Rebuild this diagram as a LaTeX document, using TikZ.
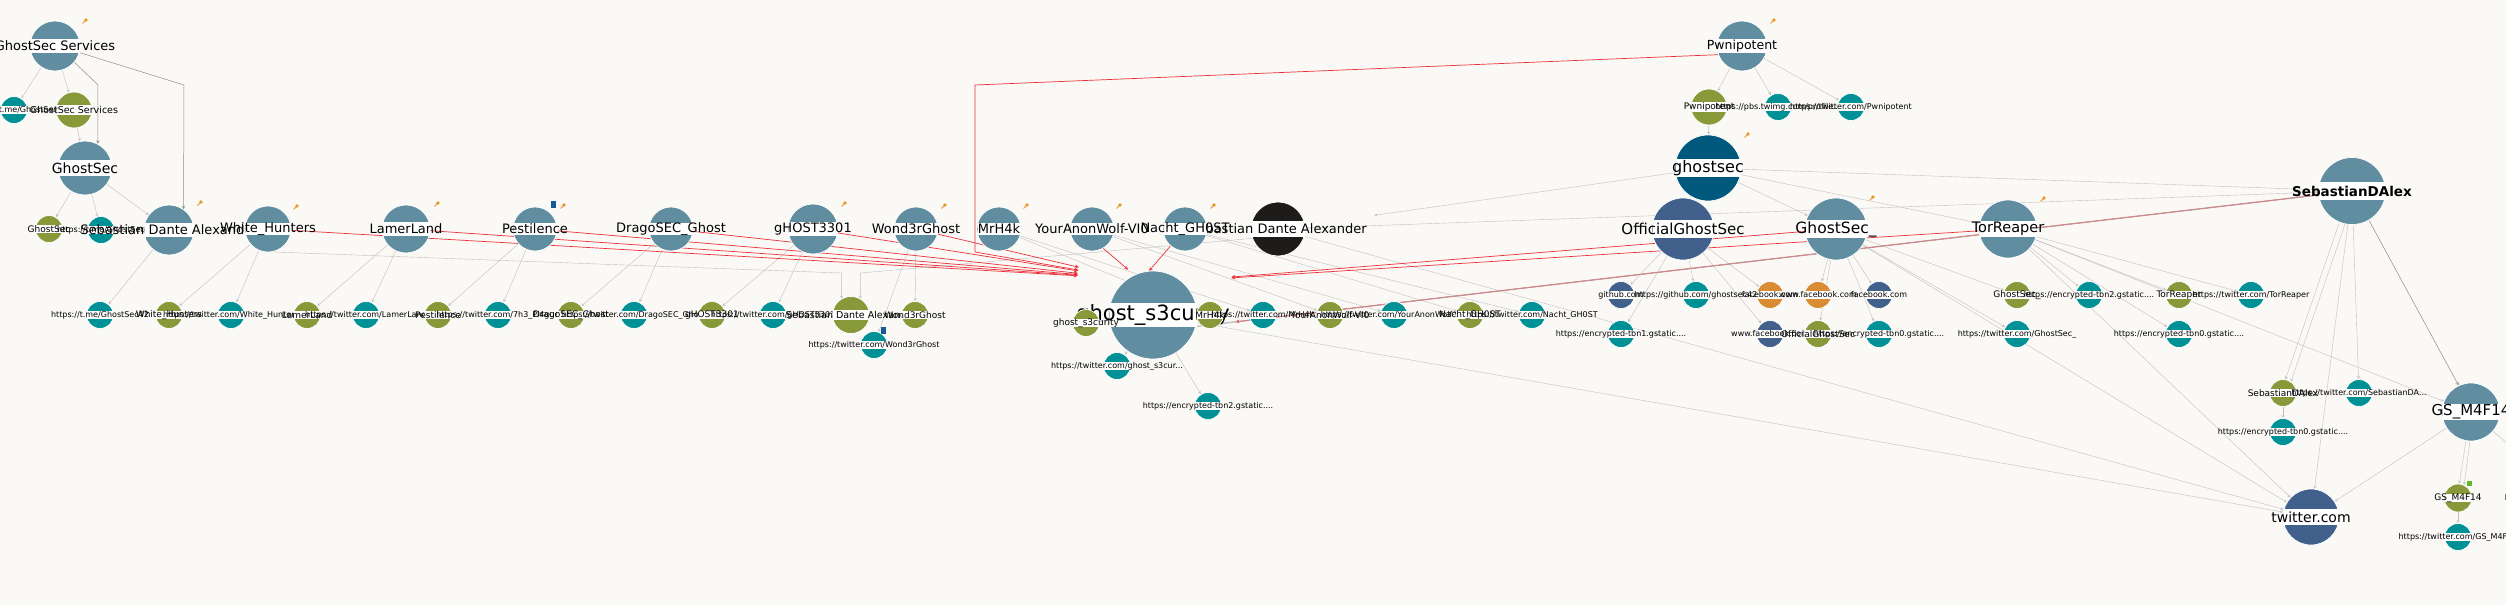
\documentclass[tikz,border=0pt]{standalone}
\usepackage{fontspec}
\setmainfont{DejaVu Sans}
\pgfdeclarelayer{paper}
\pgfdeclarelayer{background}
\pgfsetlayers{paper,background,main}
\tikzset{>=stealth}
\tikzset{
  ent/.style 2 args={circle, minimum size=#1pt, inner sep=0pt, fill=#2, draw=white, line width=0.7pt,
    label={[fill=white, inner sep=0pt, minimum width=#1pt-1pt, minimum height=0.28*#1pt]center:{}}},
  lab/.style={font=\fontsize{#1pt}{#1pt}\selectfont, text=black, inner sep=0pt},
  link/.style={->, draw=linkgrey, line width=0.4pt},
  linkd/.style={->, draw=linkdark, line width=0.5pt},
  hot/.style={->, draw=linkred, line width=0.7pt},
}

\begin{document}
\begin{tikzpicture}[x=1pt, y=-1pt]
      \definecolor{paper}{RGB}{250,249,246}
      \definecolor{steel}{RGB}{96,142,160}
      \definecolor{olive}{RGB}{136,153,58}
      \definecolor{teal}{RGB}{0,145,150}
      \definecolor{navy}{RGB}{0,88,124}
      \definecolor{blue}{RGB}{65,96,140}
      \definecolor{orange}{RGB}{218,140,52}
      \definecolor{ink}{RGB}{30,27,27}
      \definecolor{linkgrey}{RGB}{192,192,192}
      \definecolor{linkdark}{RGB}{140,140,140}
      \definecolor{linkred}{RGB}{236,48,58}
      \definecolor{pinorange}{RGB}{232,150,40}
      \definecolor{bookblue}{RGB}{20,90,150}
\useasboundingbox (0,0) rectangle (2506,605);
\begin{pgfonlayer}{paper}
\fill[paper] (0,0) rectangle (2506,605);
\end{pgfonlayer}

% GhostSec Services and GhostSec in the top left corner
\node[ent={50}{steel}, label={[lab=13]center:GhostSec Services}] (gss) at (55,46) {};
\node[ent={27}{teal}, label={[lab=8]center:{https://t.me/GhostSec}}] (tme1) at (14,110) {};
\node[ent={36}{olive}, label={[lab=9.5]center:GhostSec Services}] (gssal) at (74,110) {};
\node[ent={54}{steel}, label={[lab=14]center:GhostSec}] (gsec) at (85,168) {};
\node[ent={27}{olive}, label={[lab=9]center:GhostSec}] (gsecal) at (49,229) {};
\node[ent={27}{teal}, label={[lab=8]center:{https://t.me/GhostSec}}] (tme2) at (101,230) {};

% the two persons, then the row of twitter accounts
\node[ent={50}{steel}, label={[lab=13]center:Sebastian Dante Alexander}] (sda) at (169,230) {};
\node[ent={54}{ink}, label={[lab=13]center:Sebastian Dante Alexander}] (sdb) at (1278,229) {};
\foreach \nm/\x/\d/\txt in {whit/268/46/White\_Hunters, lamer/406/48/LamerLand, pest/535/44/Pestilence,
    drago/671/44/DragoSEC\_Ghost, ghost3301/813/50/gHOST3301, wond/916/44/Wond3rGhost,
    mrh/999/44/MrH4k, wolf/1092/44/YourAnonWolf-VI0, nacht/1185/44/Nacht\_GH0ST}
  \node[ent={\d}{steel}, label={[lab=13]center:\txt}] (\nm) at (\x,229) {};

% ghost_s3curity in the middle
\node[ent={88}{steel}, label={[lab=21]center:ghost\_s3curity}] (gs3) at (1153,315) {};

% aliases and urls below the accounts
\foreach \nm/\x/\d/\col/\s/\txt in {
    tme3/100/27/teal/8/{https://t.me/GhostSec42},
    whital/169/27/olive/9/{White\_Hunters},
    whittw/231/27/teal/8/{https://twitter.com/White\_Hunters},
    lameral/307/27/olive/9/{LamerLand},
    lamertw/366/27/teal/8/{https://twitter.com/LamerLand},
    pestal/438/27/olive/9/{Pestilence},
    pesttw/498/27/teal/8/{https://twitter.com/7h3\_Pl4gue},
    dragoal/571/27/olive/9/{DragoSEC\_Ghost},
    dragotw/634/27/teal/8/{https://twitter.com/DragoSEC\_Ghost},
    g33al/712/27/olive/9/{gHOST3301},
    g33tw/773/27/teal/8/{https://twitter.com/gHOST3301},
    sdag/851/37/olive/9.5/{Sebastian Dante Alexander},
    wondal/915/27/olive/9/{Wond3rGhost},
    mrhal/1210/27/olive/9/{MrH4k},
    mrhtw/1263/27/teal/8/{https://twitter.com/MrH4k},
    wolfal/1330/27/olive/9/{YourAnonWolf-VI0},
    wolftw/1394/27/teal/8/{https://twitter.com/YourAnonWolf-VI0},
    nachtal/1470/27/olive/9/{Nacht\_GH0ST},
    nachttw/1532/27/teal/8/{https://twitter.com/Nacht\_GH0ST}}
  \node[ent={\d}{\col}, label={[lab=\s]center:{\txt}}] (\nm) at (\x,315) {};
\node[ent={27}{teal}, label={[lab=8]center:{https://twitter.com/Wond3rGhost}}] (wondtw) at (874,345) {};
\node[ent={27}{olive}, label={[lab=9]center:ghost\_s3curity}] (gs3al) at (1086,323) {};
\node[ent={27}{teal}, label={[lab=8]center:{https://twitter.com/ghost\_s3cur...}}] (gs3tw) at (1117,366) {};
\node[ent={27}{teal}, label={[lab=8]center:{https://encrypted-tbn2.gstatic....}}] (gs3img) at (1208,406) {};

% Pwnipotent and ghostsec at the top right
\node[ent={50}{steel}, label={[lab=12.5]center:Pwnipotent}] (pwn) at (1742,46) {};
\node[ent={36}{olive}, label={[lab=9]center:Pwnipotent}] (pwnal) at (1709,107) {};
\node[ent={27}{teal}, label={[lab=8]center:{https://pbs.twimg.com/profile...}}] (pwnimg) at (1778,107) {};
\node[ent={27}{teal}, label={[lab=8]center:{https://twitter.com/Pwnipotent}}] (pwntw) at (1851,107) {};
\node[ent={66}{navy}, label={[lab=16]center:ghostsec}] (gsl) at (1708,168) {};
\node[ent={62}{blue}, label={[lab=15]center:OfficialGhostSec}] (ogs) at (1683,229) {};
\node[ent={62}{steel}, label={[lab=15.5]center:GhostSec\_}] (gsu) at (1836,229) {};
\node[ent={58}{steel}, label={[lab=14.5]center:TorReaper}] (tor) at (2008,229) {};
\node[ent={67}{steel}, label={[lab=13.5, font=\fontsize{13.5pt}{13.5pt}\selectfont\bfseries]center:SebastianDAlex}] (sdax) at (2352,191) {};

% the sites and urls found for them
\foreach \nm/\x/\y/\col/\s/\txt in {
    gh/1621/295/blue/8/{github.com},
    ghtw/1696/295/teal/8/{https://github.com/ghostsec42},
    fba/1770/295/orange/8/{facebook.com},
    fbb/1818/295/orange/8/{www.facebook.com},
    fbc/1879/295/blue/8/{facebook.com},
    gsual/2017/295/olive/9/{GhostSec\_},
    gsuimg/2089/295/teal/8/{https://encrypted-tbn2.gstatic....},
    toral/2179/295/olive/9/{TorReaper},
    tortw/2251/295/teal/8/{https://twitter.com/TorReaper},
    ogsimg/1621/334/teal/8/{https://encrypted-tbn1.gstatic....},
    fbd/1770/334/blue/8/{www.facebook.com},
    ogsal/1818/334/olive/9/{OfficialGhostSec},
    gsuimgb/1879/334/teal/8/{https://encrypted-tbn0.gstatic....},
    gsutw/2017/334/teal/8/{https://twitter.com/GhostSec\_},
    torimg/2179/334/teal/8/{https://encrypted-tbn0.gstatic....},
    sdaxal/2283/393/olive/9/{SebastianDAlex},
    sdaxtw/2359/393/teal/8/{https://twitter.com/SebastianDA...},
    sdaximg/2283/432/teal/8/{https://encrypted-tbn0.gstatic....}}
  \node[ent={27}{\col}, label={[lab=\s]center:{\txt}}] (\nm) at (\x,\y) {};

% GS_M4F14 and twitter.com in the bottom right corner
\node[ent={58}{steel}, label={[lab=15]center:GS\_M4F14}] (gsm) at (2471,412) {};
\node[ent={56}{blue}, label={[lab=14]center:twitter.com}] (tw) at (2311,517) {};
\node[ent={28}{olive}, label={[lab=9]center:GS\_M4F14}] (gsmal) at (2458,498) {};
\node[ent={27}{teal}, label={[lab=8]center:{https://encrypted-tbn0.gstatic....}}] (gsmimg) at (2570,498) {};
\node[ent={27}{teal}, label={[lab=8]center:{https://twitter.com/GS\_M4F14}}] (gsmtw) at (2458,537) {};

% links, under the entities
\begin{pgfonlayer}{background}
\foreach \a/\b in {gss/tme1, gss/gssal, gssal/gsec, gsec/gsecal, gsec/tme2, gsec/sda, sda/tme3,
    whit/whital, whit/whittw, lamer/lameral, lamer/lamertw, pest/pestal, pest/pesttw,
    drago/dragoal, drago/dragotw, ghost3301/g33al, ghost3301/g33tw, wond/wondal, wond/wondtw,
    gs3/gs3al, gs3/gs3tw, gs3/gs3img, mrh/mrhal, mrh/mrhtw, wolf/wolfal, wolf/wolftw,
    nacht/nachtal, nacht/nachttw, sdb/sdax, sdb/tw, pwn/pwnal, pwn/pwnimg, pwn/pwntw, pwnal/gsl,
    gsl/gsu, gsl/tor, gsl/sdax, ogs/gh, ogs/ghtw, ogs/ogsimg, ogs/fba, ogs/fbd,
    gsu/fbb, gsu/fbc, gsu/ogsal, gsu/gsuimgb, gsu/gsutw, gsu/gsual, gsu/tw,
    tor/gsuimg, tor/toral, tor/tortw, tor/torimg, tor/gsm, tor/tw,
    sdax/sdaxtw, sdax/tw, sdaxal/sdaximg, gsm/tw, gsm/gsmimg, gsmal/gsmtw, gs3/tw}
  \draw[link] (\a) -- (\b);
\draw[link] (sdax.-112) -- (sdaxal.80);
\draw[link] (sdax.-102) -- (sdaxal.55);
\draw[link] (gsm.-100) -- (gsmal.85);
\draw[link] (gsm.-92) -- (gsmal.65);
\draw[link, shorten >=70pt] (gsl) -- (sdb);
\draw[linkd] (sdax.-60) -- (gsm.115);
\draw[linkd] (gss.-40) -- (98,85) -- (gsec.62);
\draw[linkd] (gss.-15) -- (184,85) -- (sda.55);
\draw[link] (whit.-105) -- (841,273) -| (sdag.120);
\draw[link] (sdb.200) -- (861,273) -| (sdag.60);

% the red links into ghost_s3curity
\foreach \a in {whit, lamer, pest, drago, ghost3301, wond}
  \draw[hot, shorten >=50pt] (\a) -- (gs3.125);
\draw[hot, shorten >=50pt] (pwn.200) -- (975,85) -- (975,252) -- (gs3.125);
\draw[hot, shorten >=8pt] (wolf.-60) -- (gs3.115);
\draw[hot] (nacht) -- (gs3.95);
\draw[hot, shorten >=50pt] (tor) -- (gs3.50);
\draw[hot, shorten >=50pt] (gsu) -- (gs3.50);
\draw[link, line width=1.4pt, -] (gs3.-15) -- (sdax);
\draw[hot, shorten >=40pt] (sdax) -- (gs3.-15);
\draw[link, shorten <=40pt] (gs3.-15) -- (sdax);
\end{pgfonlayer}

% pins and bookmarks
\foreach \px/\py in {86/20, 201/202, 297/206, 438/203, 564/205, 845/203, 945/205, 1027/205,
    1120/205, 1214/205, 1774/20, 1748/134, 1873/197, 2044/198} {
  \draw[pinorange, line width=1pt] (\px,\py) -- ++(-3.5,3.5);
  \fill[pinorange] (\px,\py) circle (1.8);
}
\fill[bookblue] (551,201) rectangle (556,208);
\fill[bookblue] (881,327) rectangle (886,334);
\fill[olive!70!green] (2467,481) rectangle (2472,486);
\end{tikzpicture}
\end{document}
